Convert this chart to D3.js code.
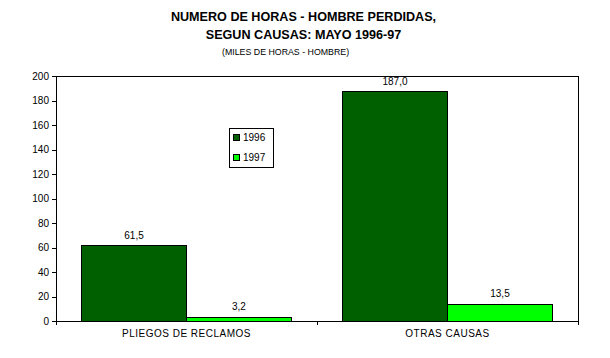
<!DOCTYPE html>
<html><head><meta charset="utf-8">
<script src="https://cdn.jsdelivr.net/npm/d3@7"></script>
<style>body{margin:0;background:#fff}svg{display:block}text{font-family:"Liberation Sans",Arial,sans-serif;fill:#000}</style>
</head><body>
<script>
const categories = ["PLIEGOS DE RECLAMOS", "OTRAS CAUSAS"];
const seriesNames = ["1996", "1997"];
const values1996 = [61.5, 187.0];
const values1997 = [3.2, 13.5];
const yTicks = [0, 20, 40, 60, 80, 100, 120, 140, 160, 180, 200];
const titleLines = ["NUMERO DE HORAS - HOMBRE PERDIDAS,", "SEGUN CAUSAS: MAYO 1996-97"];
const subtitle = "(MILES DE HORAS - HOMBRE)";
const colors = ["#006000", "#00ff00"];

const W = 610, H = 358;
const m = {left: 56, right: 32, top: 76, bottom: 37};
const svg = d3.select("body").append("svg").attr("width", W).attr("height", H);

const x0 = d3.scaleBand().domain(categories).range([m.left, W - m.right]).padding(0);
const x1 = d3.scaleBand().domain(seriesNames).range([0, x0.bandwidth()]).paddingInner(0).paddingOuter(0.243);
const y = d3.scaleLinear().domain([0, 200]).range([H - m.bottom, m.top]);

// plot frame
svg.append("rect").attr("x", m.left).attr("y", m.top).attr("width", W - m.right - m.left)
  .attr("height", H - m.bottom - m.top).attr("fill", "none").attr("stroke", "#000").attr("stroke-width", 1)
  .attr("shape-rendering", "crispEdges");

const data = [values1996, values1997];
categories.forEach((c, ci) => {
  seriesNames.forEach((s, si) => {
    const v = data[si][ci];
    const bx = x0(c) + x1(s);
    svg.append("rect").attr("x", bx).attr("y", y(v)).attr("width", x1.bandwidth())
      .attr("height", y(0) - y(v)).attr("fill", colors[si]).attr("stroke", "#000").attr("stroke-width", 1)
      .attr("shape-rendering", "crispEdges");
    svg.append("text").attr("x", bx + x1.bandwidth() / 2).attr("y", y(v) - 7)
      .attr("text-anchor", "middle").attr("font-size", 10).text(d3.format(".1f")(v).replace(".", ","));
  });
});

// y axis
const ya = svg.append("g").attr("transform", `translate(${m.left},0)`)
  .call(d3.axisLeft(y).tickValues(yTicks).tickSize(4).tickPadding(3).tickFormat(d3.format("d")));
ya.select(".domain").attr("stroke", "#000");
ya.selectAll("text").attr("font-size", 10).attr("font-family", '"Liberation Sans",Arial,sans-serif');
ya.selectAll("line,path").attr("shape-rendering", "crispEdges");

// x axis
const xa = svg.append("g").attr("transform", `translate(0,${H - m.bottom})`)
  .call(d3.axisBottom(x0).tickSize(0).tickPadding(9));
xa.select(".domain").remove();
xa.selectAll("text").attr("font-size", 10).attr("font-family", '"Liberation Sans",Arial,sans-serif').attr("letter-spacing", 0.5);
const bounds = categories.map(c => x0(c)).concat([x0(categories[categories.length - 1]) + x0.bandwidth()]);
svg.append("line").attr("x1", m.left).attr("x2", W - m.right).attr("y1", H - m.bottom).attr("y2", H - m.bottom)
  .attr("stroke", "#000").attr("shape-rendering", "crispEdges");
bounds.forEach(b => svg.append("line").attr("x1", b).attr("x2", b).attr("y1", H - m.bottom).attr("y2", H - m.bottom + 4)
  .attr("stroke", "#000").attr("shape-rendering", "crispEdges"));

// titles
svg.append("text").attr("x", 303.5).attr("y", 21).attr("text-anchor", "middle").attr("font-size", 12.6)
  .attr("font-weight", "bold").text(titleLines[0]);
svg.append("text").attr("x", 303.5).attr("y", 39).attr("text-anchor", "middle").attr("font-size", 12.6)
  .attr("font-weight", "bold").text(titleLines[1]);
svg.append("text").attr("x", 222).attr("y", 55).attr("font-size", 8.8).text(subtitle);

// legend
const lg = svg.append("g");
lg.append("rect").attr("x", 229.5).attr("y", 128.5).attr("width", 44).attr("height", 39)
  .attr("fill", "#fff").attr("stroke", "#000").attr("shape-rendering", "crispEdges");
seriesNames.forEach((s, i) => {
  lg.append("rect").attr("x", 233.5).attr("y", 134.5 + i * 20).attr("width", 6).attr("height", 6)
    .attr("fill", colors[i]).attr("stroke", "#000").attr("shape-rendering", "crispEdges");
  lg.append("text").attr("x", 243).attr("y", 141 + i * 20).attr("font-size", 10).text(s);
});
</script>
</body></html>
